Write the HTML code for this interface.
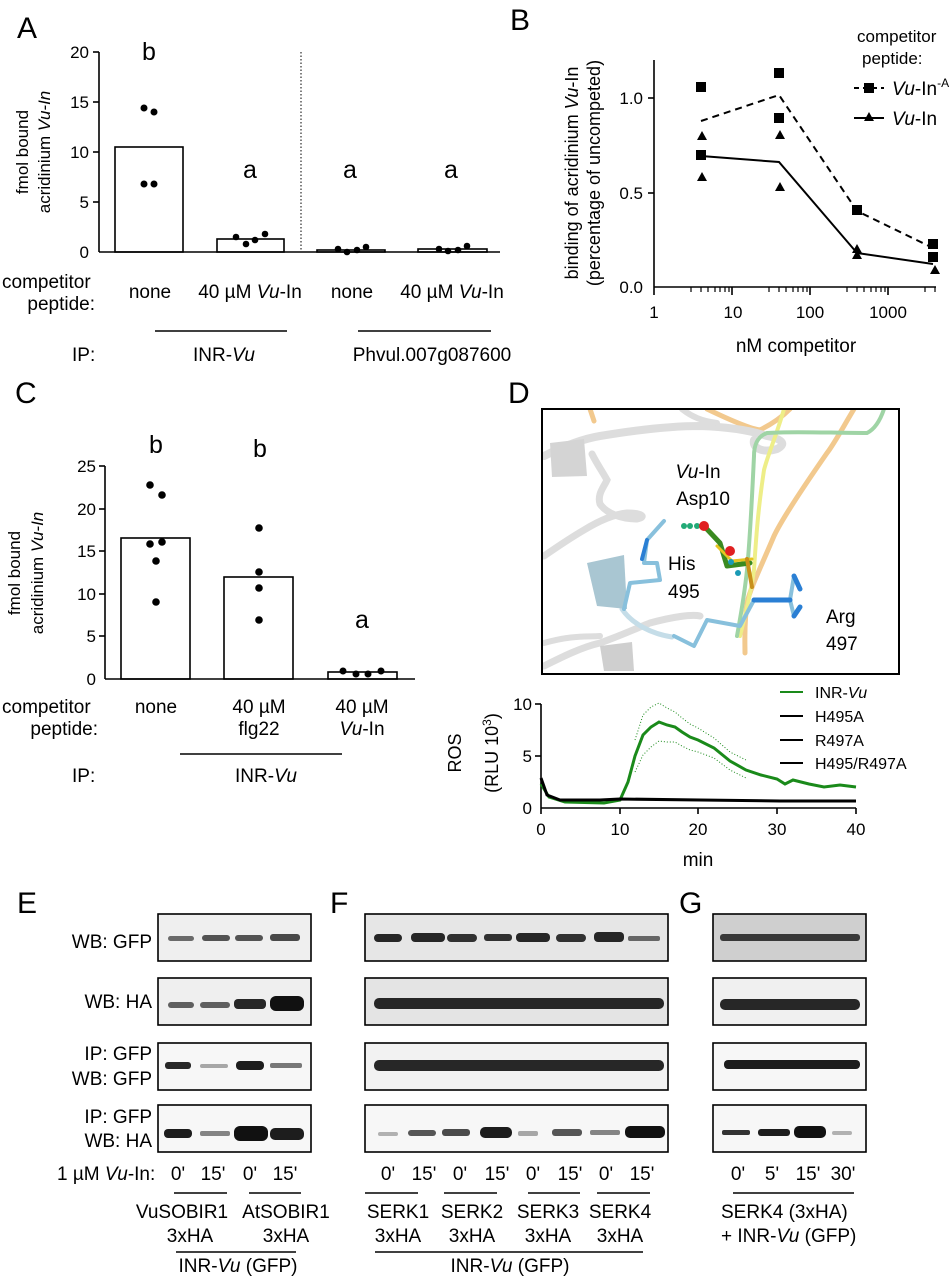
<!DOCTYPE html>
<html><head><meta charset="utf-8"><style>
body{margin:0;background:#fff}
svg{display:block;font-family:"Liberation Sans",sans-serif}
</style></head><body>
<svg width="952" height="1280" viewBox="0 0 952 1280" xmlns="http://www.w3.org/2000/svg">
<g font-size="19" fill="#000">
<!-- Panel A -->
<text x="17" y="38" font-size="30">A</text>
<g stroke="#000" stroke-width="1.6" fill="none">
<line x1="99" y1="52" x2="99" y2="252"/><line x1="99" y1="252" x2="500" y2="252"/>
<line x1="93" y1="52" x2="99" y2="52"/><line x1="93" y1="102" x2="99" y2="102"/><line x1="93" y1="152" x2="99" y2="152"/><line x1="93" y1="202" x2="99" y2="202"/>
<rect x="115" y="147" width="68" height="105"/><rect x="217" y="239" width="67" height="13"/>
<rect x="317" y="250" width="68" height="2"/><rect x="418" y="249" width="69" height="3"/>
</g>
<line x1="301" y1="52" x2="301" y2="252" stroke="#000" stroke-dasharray="1.5,2"/>
<g font-size="17" text-anchor="end"><text x="89" y="58">20</text><text x="89" y="108">15</text><text x="89" y="158">10</text><text x="89" y="208">5</text><text x="89" y="258">0</text></g>
<text transform="translate(28,152) rotate(-90)" text-anchor="middle" font-size="17">fmol bound</text>
<text transform="translate(50,152) rotate(-90)" text-anchor="middle" font-size="17">acridinium <tspan font-style="italic">Vu-In</tspan></text>
<g fill="#000"><circle cx="144" cy="108" r="3.5"/><circle cx="154" cy="112" r="3.5"/><circle cx="144" cy="184" r="3.5"/><circle cx="154" cy="184" r="3.5"/>
<circle cx="236" cy="237" r="3.3"/><circle cx="246" cy="244" r="3.3"/><circle cx="255" cy="240" r="3.3"/><circle cx="265" cy="234" r="3.3"/>
<circle cx="338" cy="249" r="3.3"/><circle cx="347" cy="252" r="3.3"/><circle cx="357" cy="250" r="3.3"/><circle cx="366" cy="247" r="3.3"/>
<circle cx="439" cy="249" r="3.3"/><circle cx="448" cy="251" r="3.3"/><circle cx="458" cy="250" r="3.3"/><circle cx="467" cy="246" r="3.3"/></g>
<g font-size="25" text-anchor="middle"><text x="149" y="60">b</text><text x="250" y="178">a</text><text x="350" y="178">a</text><text x="451" y="178">a</text></g>
<text x="2" y="288">competitor</text><text x="95" y="310" text-anchor="end">peptide:</text>
<g text-anchor="middle"><text x="150" y="298">none</text><text x="250" y="298">40 µM <tspan font-style="italic">Vu</tspan>-In</text><text x="352" y="298">none</text><text x="452" y="298">40 µM <tspan font-style="italic">Vu</tspan>-In</text></g>
<line x1="155" y1="331" x2="287" y2="331" stroke="#000" stroke-width="1.6"/><line x1="358" y1="331" x2="491" y2="331" stroke="#000" stroke-width="1.6"/>
<text x="72" y="361">IP:</text>
<text x="224" y="361" text-anchor="middle">INR-<tspan font-style="italic">Vu</tspan></text>
<text x="432" y="361" text-anchor="middle">Phvul.007g087600</text>

<!-- Panel B -->
<text x="510" y="30" font-size="30">B</text>
<g stroke="#000" stroke-width="1.6" fill="none">
<line x1="654" y1="60" x2="654" y2="287"/><line x1="654" y1="287" x2="936" y2="287"/>
<line x1="648" y1="98" x2="654" y2="98"/><line x1="648" y1="193" x2="654" y2="193"/>
<line x1="654" y1="287" x2="654" y2="295"/><line x1="732" y1="287" x2="732" y2="295"/><line x1="810" y1="287" x2="810" y2="295"/><line x1="888" y1="287" x2="888" y2="295"/>
<g stroke-width="1.2"><line x1="691" y1="287" x2="691" y2="292"/><line x1="701" y1="287" x2="701" y2="292"/><line x1="708" y1="287" x2="708" y2="292"/><line x1="715" y1="287" x2="715" y2="292"/><line x1="720" y1="287" x2="720" y2="292"/><line x1="725" y1="287" x2="725" y2="292"/><line x1="729" y1="287" x2="729" y2="292"/>
<line x1="769" y1="287" x2="769" y2="292"/><line x1="779" y1="287" x2="779" y2="292"/><line x1="786" y1="287" x2="786" y2="292"/><line x1="793" y1="287" x2="793" y2="292"/><line x1="798" y1="287" x2="798" y2="292"/><line x1="803" y1="287" x2="803" y2="292"/><line x1="807" y1="287" x2="807" y2="292"/>
<line x1="847" y1="287" x2="847" y2="292"/><line x1="857" y1="287" x2="857" y2="292"/><line x1="864" y1="287" x2="864" y2="292"/><line x1="871" y1="287" x2="871" y2="292"/><line x1="876" y1="287" x2="876" y2="292"/><line x1="881" y1="287" x2="881" y2="292"/><line x1="885" y1="287" x2="885" y2="292"/>
<line x1="925" y1="287" x2="925" y2="292"/><line x1="935" y1="287" x2="935" y2="292"/></g>
<polyline points="701,121 779,95 857,211 933,248" stroke-dasharray="7,5" stroke-width="2"/>
<polyline points="701,156 779,162 857,253 933,264" stroke-width="2"/>
</g>
<g font-size="17" text-anchor="end"><text x="643" y="104">1.0</text><text x="643" y="199">0.5</text><text x="643" y="293">0.0</text></g>
<g font-size="17" text-anchor="middle"><text x="654" y="318">1</text><text x="733" y="318">10</text><text x="810" y="318">100</text><text x="888" y="318">1000</text></g>
<text x="796" y="352" text-anchor="middle">nM competitor</text>
<text transform="translate(578,173) rotate(-90)" text-anchor="middle" font-size="18">binding of acridinium <tspan font-style="italic">Vu</tspan>-In</text>
<text transform="translate(600,173) rotate(-90)" text-anchor="middle" font-size="18">(percentage of uncompeted)</text>
<g fill="#000">
<rect x="696" y="82" width="10" height="10"/><rect x="696" y="150" width="10" height="10"/><rect x="774" y="68" width="10" height="10"/><rect x="774" y="113" width="10" height="10"/><rect x="852" y="205" width="10" height="10"/><rect x="928" y="239" width="10" height="10"/><rect x="928" y="252" width="10" height="10"/>
<path d="M702 131l5 9h-10z M702 172l5 9h-10z M780 130l5 9h-10z M780 182l5 9h-10z M857 244l5 9h-10z M857 250l5 9h-10z M935 265l5 9h-10z"/>
</g>
<text x="857" y="42" font-size="17">competitor</text><text x="862" y="64" font-size="17">peptide:</text>
<line x1="854" y1="88" x2="884" y2="88" stroke="#000" stroke-width="2" stroke-dasharray="5,4"/><rect x="864" y="83" width="10" height="10"/>
<text x="892" y="95"><tspan font-style="italic">Vu</tspan>-In<tspan font-size="12" dy="-8">-A</tspan></text>
<line x1="854" y1="118" x2="884" y2="118" stroke="#000" stroke-width="2"/><path d="M869 112l5 9h-10z"/>
<text x="892" y="125"><tspan font-style="italic">Vu</tspan>-In</text>

<!-- Panel C -->
<text x="15" y="403" font-size="30">C</text>
<g stroke="#000" stroke-width="1.6" fill="none">
<line x1="105" y1="466" x2="105" y2="679"/><line x1="105" y1="679" x2="415" y2="679"/>
<line x1="99" y1="466" x2="105" y2="466"/><line x1="99" y1="509" x2="105" y2="509"/><line x1="99" y1="551" x2="105" y2="551"/><line x1="99" y1="594" x2="105" y2="594"/><line x1="99" y1="636" x2="105" y2="636"/>
<rect x="121" y="538" width="69" height="141"/><rect x="224" y="577" width="69" height="102"/><rect x="328" y="672" width="69" height="7"/>
</g>
<g font-size="17" text-anchor="end"><text x="96" y="472">25</text><text x="96" y="515">20</text><text x="96" y="557">15</text><text x="96" y="600">10</text><text x="96" y="642">5</text><text x="96" y="685">0</text></g>
<text transform="translate(20,573) rotate(-90)" text-anchor="middle" font-size="17">fmol bound</text>
<text transform="translate(43,573) rotate(-90)" text-anchor="middle" font-size="17">acridinium <tspan font-style="italic">Vu-In</tspan></text>
<g fill="#000"><circle cx="150" cy="485" r="3.8"/><circle cx="162" cy="495" r="3.8"/><circle cx="150" cy="544" r="3.8"/><circle cx="162" cy="542" r="3.8"/><circle cx="156" cy="561" r="3.8"/><circle cx="156" cy="602" r="3.8"/>
<circle cx="259" cy="528" r="3.8"/><circle cx="259" cy="572" r="3.8"/><circle cx="259" cy="588" r="3.8"/><circle cx="259" cy="620" r="3.8"/>
<circle cx="343" cy="671" r="3.5"/><circle cx="356" cy="674" r="3.5"/><circle cx="368" cy="674" r="3.5"/><circle cx="381" cy="671" r="3.5"/></g>
<g font-size="25" text-anchor="middle"><text x="156" y="453">b</text><text x="260" y="457">b</text><text x="362" y="628">a</text></g>
<text x="2" y="713">competitor</text><text x="98" y="735" text-anchor="end">peptide:</text>
<g text-anchor="middle"><text x="156" y="713">none</text><text x="259" y="713">40 µM</text><text x="259" y="735">flg22</text><text x="362" y="713">40 µM</text><text x="362" y="735"><tspan font-style="italic">Vu</tspan>-In</text></g>
<line x1="180" y1="754" x2="342" y2="754" stroke="#000" stroke-width="1.6"/>
<text x="72" y="782">IP:</text><text x="266" y="782" text-anchor="middle">INR-<tspan font-style="italic">Vu</tspan></text>

<!-- Panel D -->
<text x="508" y="403" font-size="30">D</text>
<svg x="542" y="409" width="357" height="265" overflow="hidden">
<g fill="none" stroke-linecap="round">
<path d="M48 0 L52 12" stroke="#f2c98e" stroke-width="5"/>
<path d="M165 0 C190 12 210 20 218 21 C230 15 240 8 248 0" stroke="#f2c98e" stroke-width="5"/>
<path d="M2 47 C20 38 40 30 58 27 C100 20 130 17 158 17 C190 18 210 22 225 27 C240 30 245 35 235 40 C222 44 210 40 212 31" stroke="#ddd" stroke-width="8"/>
<path d="M140 0 C150 8 160 12 175 14" stroke="#ddd" stroke-width="6"/>
<path d="M2 147 C15 138 30 128 42 121 C60 110 75 105 85 104 C100 104 105 108 95 110 C80 110 65 105 58 95 C55 85 62 78 65 71 C60 62 55 55 50 45" stroke="#ddd" stroke-width="7"/>
<path d="M2 257 C20 248 40 238 58 234 C80 226 100 217 108 214 C130 208 150 205 158 207" stroke="#ddd" stroke-width="7"/>
<path d="M2 234 C30 226 45 228 58 227" stroke="#ddd" stroke-width="6"/>
<path d="M80 200 C90 215 110 225 130 228" stroke="#c5dde8" stroke-width="5"/>
<path d="M312 0 C300 20 292 35 285 44 C260 80 240 110 232 127 C218 160 208 180 205 194 C202 215 203 235 203 244" stroke="#f2c98e" stroke-width="5"/>
<path d="M242 0 C235 25 226 45 222 61 C216 100 214 130 212 161 C208 190 202 210 198 227" stroke="#eeee88" stroke-width="4"/>
<path d="M342 0 C338 12 333 20 325 24 C290 24 250 22 225 24 C214 28 212 38 212 47 C210 90 208 130 205 161 C202 190 198 210 195 227" stroke="#9fd4a5" stroke-width="4"/>
</g>
<path d="M8 34 L42 30 L45 67 L10 68Z" fill="#d4d4d4"/>
<path d="M45 154 L82 146 L85 200 L55 197Z" fill="#a9c6d2"/>
<path d="M58 237 L90 233 L92 262 L62 262Z" fill="#cfcfcf"/>
<g fill="none" stroke-linecap="round" stroke-linejoin="round">
<path d="M122 112 L105 131 L102 154 L115 154 L118 171 L88 174 L82 200" stroke="#88c0dc" stroke-width="4"/>
<path d="M105 131 L100 150" stroke="#2a7fd4" stroke-width="4"/>
<path d="M132 227 L152 237 L165 211 L198 217 L212 191 L248 191 L252 167 M248 191 L252 207" stroke="#88c0dc" stroke-width="4"/>
<path d="M212 191 L248 191 M252 167 L258 180 M252 207 L258 198" stroke="#2a7fd4" stroke-width="5"/>
<path d="M162 117 L178 134 L185 157 L208 154" stroke="#3a8a20" stroke-width="5"/>
<path d="M175 137 L190 152 L210 150" stroke="#e6c520" stroke-width="3"/>
<path d="M205 150 L210 178" stroke="#c8901a" stroke-width="4"/>
</g>
<circle cx="142" cy="117" r="3" fill="#22aa77"/><circle cx="148" cy="117" r="3" fill="#22aa77"/><circle cx="155" cy="117" r="3" fill="#22aa77"/>
<circle cx="162" cy="117" r="5" fill="#e02020"/><circle cx="188" cy="142" r="5" fill="#e02020"/>
<circle cx="196" cy="164" r="3" fill="#1a9ab5"/><circle cx="189" cy="153" r="3" fill="#1a9ab5"/>
</svg>
<rect x="542" y="409" width="357" height="265" fill="none" stroke="#000" stroke-width="2"/>
<text x="698" y="478" text-anchor="middle"><tspan font-style="italic">Vu</tspan>-In</text>
<text x="703" y="505" text-anchor="middle">Asp10</text>
<text x="668" y="570">His</text><text x="668" y="598">495</text>
<text x="826" y="623">Arg</text><text x="826" y="650">497</text>
<!-- ROS -->
<g stroke="#000" stroke-width="1.6" fill="none">
<line x1="541" y1="704" x2="541" y2="808"/><line x1="541" y1="808" x2="856" y2="808"/>
<line x1="535" y1="704" x2="541" y2="704"/><line x1="535" y1="756" x2="541" y2="756"/>
<line x1="541" y1="808" x2="541" y2="814"/><line x1="620" y1="808" x2="620" y2="814"/><line x1="698" y1="808" x2="698" y2="814"/><line x1="777" y1="808" x2="777" y2="814"/><line x1="856" y1="808" x2="856" y2="814"/>
</g>
<g font-size="17" text-anchor="end"><text x="532" y="710">10</text><text x="532" y="762">5</text><text x="532" y="814">0</text></g>
<g font-size="17" text-anchor="middle"><text x="541" y="835">0</text><text x="620" y="835">10</text><text x="698" y="835">20</text><text x="777" y="835">30</text><text x="856" y="835">40</text></g>
<text x="698" y="866" text-anchor="middle">min</text>
<text transform="translate(461,753) rotate(-90)" text-anchor="middle" font-size="18">ROS</text>
<text transform="translate(498,753) rotate(-90)" text-anchor="middle" font-size="18">(RLU 10<tspan font-size="12" dy="-7">3</tspan><tspan dy="7">)</tspan></text>
<polyline points="541,784 549,797 565,802 604,803 620,800 628,782 635,756 643,735 651,727 659,722 667,725 675,727 682,732 690,737 698,740 714,748 730,761 746,770 761,775 777,779 785,784 793,780 809,784 824,787 840,785 856,787" fill="none" stroke="#1a8a1a" stroke-width="3"/>
<polyline points="635,740 643,715 651,707 659,703 667,708 675,712 682,718 690,724 698,728 714,738 730,752 746,760" fill="none" stroke="#1a8a1a" stroke-width="1" stroke-dasharray="1,2"/>
<polyline points="635,772 643,755 651,747 659,741 667,742 675,742 682,746 690,750 698,752 714,758 730,770 746,778" fill="none" stroke="#1a8a1a" stroke-width="1" stroke-dasharray="1,2"/>
<polyline points="541,778 547,795 560,800 600,800 620,799 700,800 780,801 856,801" fill="none" stroke="#000" stroke-width="3"/>
<g font-size="16">
<line x1="780" y1="692" x2="803" y2="692" stroke="#1a8a1a" stroke-width="2"/><text x="815" y="698">INR-<tspan font-style="italic">Vu</tspan></text>
<line x1="780" y1="716" x2="803" y2="716" stroke="#000" stroke-width="2"/><text x="815" y="722">H495A</text>
<line x1="780" y1="740" x2="803" y2="740" stroke="#000" stroke-width="2"/><text x="815" y="746">R497A</text>
<line x1="780" y1="763" x2="803" y2="763" stroke="#000" stroke-width="2"/><text x="815" y="769">H495/R497A</text>
</g>

<!-- Blots -->
<text x="17" y="913" font-size="30">E</text><text x="330" y="913" font-size="30">F</text><text x="679" y="913" font-size="30">G</text>
<g text-anchor="end">
<text x="152" y="948">WB: GFP</text><text x="152" y="1008">WB: HA</text>
<text x="152" y="1060">IP: GFP</text><text x="152" y="1085">WB: GFP</text>
<text x="152" y="1123">IP: GFP</text><text x="152" y="1147">WB: HA</text>
</g>
<g stroke="#000" stroke-width="1.6">
<rect x="158" y="914" width="153" height="47" fill="#efefef"/><rect x="158" y="978" width="153" height="47" fill="#efefef"/><rect x="158" y="1043" width="153" height="47" fill="#f7f7f7"/><rect x="158" y="1105" width="153" height="47" fill="#f7f7f7"/>
<rect x="365" y="914" width="303" height="47" fill="#e6e6e6"/><rect x="365" y="978" width="303" height="47" fill="#e4e4e4"/><rect x="365" y="1043" width="303" height="47" fill="#f2f2f2"/><rect x="365" y="1105" width="303" height="47" fill="#f7f7f7"/>
<rect x="713" y="914" width="153" height="47" fill="#cfcfcf"/><rect x="713" y="978" width="153" height="47" fill="#f0f0f0"/><rect x="713" y="1043" width="153" height="47" fill="#f7f7f7"/><rect x="713" y="1105" width="153" height="47" fill="#f7f7f7"/>
</g>
<g fill="#111">
<!-- E -->
<rect x="168" y="936" width="26" height="5" rx="2.5" opacity=".6"/><rect x="202" y="935" width="28" height="6" rx="3" opacity=".7"/><rect x="235" y="935" width="28" height="6" rx="3" opacity=".7"/><rect x="270" y="934" width="30" height="7" rx="3" opacity=".75"/>
<rect x="168" y="1002" width="26" height="6" rx="3" opacity=".65"/><rect x="200" y="1002" width="30" height="6" rx="3" opacity=".65"/><rect x="234" y="999" width="32" height="10" rx="4" opacity=".9"/><rect x="270" y="996" width="34" height="15" rx="6" opacity="1"/>
<rect x="165" y="1062" width="26" height="7" rx="3" opacity=".9"/><rect x="200" y="1064" width="28" height="4" rx="2" opacity=".35"/><rect x="236" y="1061" width="28" height="9" rx="4" opacity=".95"/><rect x="270" y="1063" width="32" height="5" rx="2" opacity=".55"/>
<rect x="164" y="1129" width="28" height="9" rx="4" opacity=".95"/><rect x="200" y="1131" width="30" height="5" rx="2" opacity=".5"/><rect x="234" y="1126" width="34" height="15" rx="6" opacity="1"/><rect x="270" y="1128" width="34" height="12" rx="5" opacity=".95"/>
<!-- F -->
<rect x="374" y="934" width="28" height="8" rx="4" opacity=".9"/><rect x="411" y="933" width="34" height="9" rx="4" opacity=".9"/><rect x="447" y="934" width="30" height="8" rx="4" opacity=".85"/><rect x="484" y="934" width="28" height="7" rx="3" opacity=".85"/><rect x="516" y="933" width="34" height="9" rx="4" opacity=".9"/><rect x="556" y="934" width="30" height="8" rx="4" opacity=".85"/><rect x="594" y="932" width="30" height="10" rx="4" opacity=".9"/><rect x="628" y="936" width="32" height="5" rx="2" opacity=".6"/>
<rect x="374" y="998" width="290" height="11" rx="5" opacity=".9"/>
<rect x="374" y="1060" width="290" height="11" rx="5" opacity=".9"/>
<rect x="378" y="1132" width="20" height="4" rx="2" opacity=".3"/><rect x="408" y="1130" width="28" height="6" rx="3" opacity=".7"/><rect x="442" y="1129" width="28" height="7" rx="3" opacity=".75"/><rect x="480" y="1127" width="32" height="11" rx="5" opacity=".95"/><rect x="518" y="1131" width="20" height="5" rx="2" opacity=".35"/><rect x="552" y="1129" width="30" height="7" rx="3" opacity=".7"/><rect x="590" y="1130" width="30" height="5" rx="2" opacity=".5"/><rect x="625" y="1126" width="40" height="12" rx="5" opacity="1"/>
<!-- G -->
<rect x="720" y="934" width="140" height="7" rx="3" opacity=".8"/>
<rect x="720" y="999" width="140" height="11" rx="5" opacity=".9"/>
<rect x="724" y="1060" width="136" height="9" rx="4" opacity=".95"/>
<rect x="722" y="1130" width="28" height="5" rx="2" opacity=".85"/><rect x="758" y="1129" width="32" height="7" rx="3" opacity=".95"/><rect x="794" y="1126" width="32" height="12" rx="5" opacity="1"/><rect x="832" y="1131" width="20" height="4" rx="2" opacity=".3"/>
</g>
<g text-anchor="middle">
<text x="57" y="1180" text-anchor="start">1 µM <tspan font-style="italic">Vu</tspan>-In:</text>
<text x="178" y="1180">0'</text><text x="213" y="1180">15'</text><text x="250" y="1180">0'</text><text x="285" y="1180">15'</text>
<text x="388" y="1180">0'</text><text x="424" y="1180">15'</text><text x="460" y="1180">0'</text><text x="497" y="1180">15'</text><text x="533" y="1180">0'</text><text x="570" y="1180">15'</text><text x="606" y="1180">0'</text><text x="642" y="1180">15'</text>
<text x="738" y="1180">0'</text><text x="772" y="1180">5'</text><text x="808" y="1180">15'</text><text x="843" y="1180">30'</text>
<text x="182" y="1218">VuSOBIR1</text><text x="190" y="1242">3xHA</text><text x="286" y="1218">AtSOBIR1</text><text x="286" y="1242">3xHA</text>
<text x="238" y="1272">INR-<tspan font-style="italic">Vu</tspan> (GFP)</text>
<text x="398" y="1218">SERK1</text><text x="398" y="1242">3xHA</text><text x="472" y="1218">SERK2</text><text x="472" y="1242">3xHA</text><text x="548" y="1218">SERK3</text><text x="548" y="1242">3xHA</text><text x="620" y="1218">SERK4</text><text x="620" y="1242">3xHA</text>
<text x="510" y="1272">INR-<tspan font-style="italic">Vu</tspan> (GFP)</text>
<text x="721" y="1218" text-anchor="start">SERK4 (3xHA)</text><text x="721" y="1242" text-anchor="start">+ INR-<tspan font-style="italic">Vu</tspan> (GFP)</text>
</g>
<g stroke="#000" stroke-width="1.5">
<line x1="174" y1="1193" x2="227" y2="1193"/><line x1="249" y1="1193" x2="301" y2="1193"/><line x1="176" y1="1252" x2="296" y2="1252"/>
<line x1="365" y1="1193" x2="418" y2="1193"/><line x1="444" y1="1193" x2="497" y2="1193"/><line x1="528" y1="1193" x2="580" y2="1193"/><line x1="597" y1="1193" x2="650" y2="1193"/>
<line x1="375" y1="1252" x2="643" y2="1252"/>
<line x1="733" y1="1193" x2="854" y2="1193"/>
</g>
</g>
</svg>
</body></html>
